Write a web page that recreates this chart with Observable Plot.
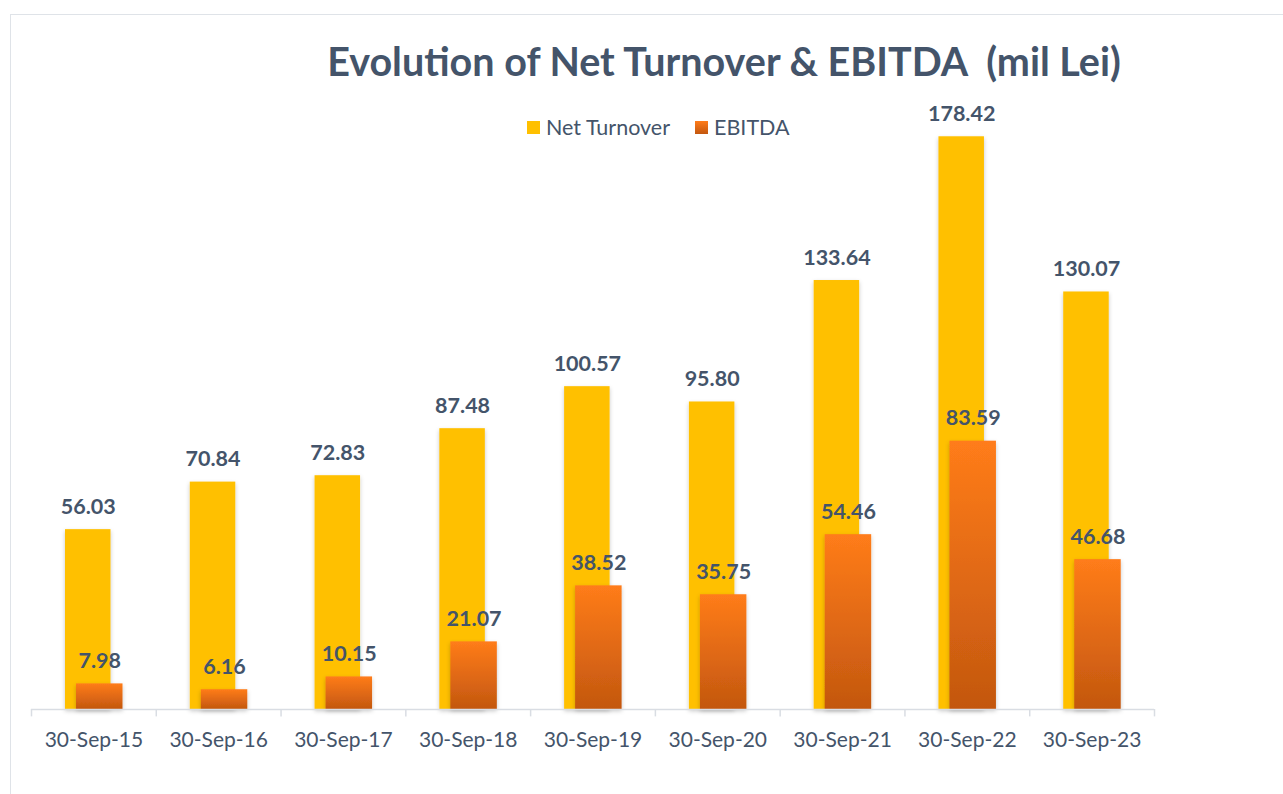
<!DOCTYPE html>
<html>
<head>
<meta charset="utf-8">
<script src="https://cdn.jsdelivr.net/npm/d3@7"></script>
<script src="https://cdn.jsdelivr.net/npm/@observablehq/plot@0.6"></script>
<style>
  html, body { margin: 0; padding: 0; background: #fff; }
  #wrap { position: relative; width: 1283px; height: 794px; overflow: hidden; font-family: Lato, "Open Sans", sans-serif; }
  #frame { position: absolute; left: 10px; top: 14px; width: 1400px; height: 900px; border: 1px solid #dfe3e8; box-sizing: border-box; }
  #title { position: absolute; left: 0; width: 1448px; top: 37px; text-align: center; font-size: 39.5px; font-weight: 700; color: #44546A; line-height: 48px; white-space: pre; }
  #legend { position: absolute; left: 527px; top: 114px; display: flex; align-items: center; font-size: 21.5px; color: #44546A; line-height: 26px; }
  #legend .sw { width: 13px; height: 13px; display: inline-block; margin-right: 6px; }
  #legend .item { display: flex; align-items: center; margin-right: 25px; }
  #chart { position: absolute; left: 0; top: 0; }
</style>
</head>
<body>
<div id="wrap">
  <div id="frame"></div>
  <div id="chart"></div>
  <div id="title"></div>
  <div id="legend"></div>
</div>
<script>
const categories = ["30-Sep-15","30-Sep-16","30-Sep-17","30-Sep-18","30-Sep-19","30-Sep-20","30-Sep-21","30-Sep-22","30-Sep-23"];
const netTurnover = [56.03, 70.84, 72.83, 87.48, 100.57, 95.80, 133.64, 178.42, 130.07];
const ebitda = [7.98, 6.16, 10.15, 21.07, 38.52, 35.75, 54.46, 83.59, 46.68];
const seriesNames = ["Net Turnover", "EBITDA"];
const titleText = "Evolution of Net Turnover & EBITDA  (mil Lei)";

const turnoverData = categories.map((c, i) => ({cat: c, value: netTurnover[i]}));
const ebitdaData = categories.map((c, i) => ({cat: c, value: ebitda[i]}));

const W = 1283, H = 794;
const mL = 31, mR = 129, mT = 67, mB = 85;
const bw = (W - mL - mR) / categories.length;
const labelColor = "#44546A";
const axisColor = "#d9dde3";

const chart = Plot.plot({
  width: W,
  height: H,
  marginLeft: mL,
  marginRight: mR,
  marginTop: mT,
  marginBottom: mB,
  style: {fontFamily: "Lato, 'Open Sans', sans-serif", background: "transparent", overflow: "visible"},
  x: {domain: categories, padding: 0, round: false, label: null},
  y: {domain: [0, 200], axis: null},
  marks: [
    Plot.barY(turnoverData, {x: "cat", y: "value", fill: "#FFC000", insetLeft: 34, insetRight: bw - 34 - 45.5}),
    Plot.barY(ebitdaData, {x: "cat", y: "value", fill: "url(#ebitdaGrad)", insetLeft: 45, insetRight: bw - 45 - 46.5}),
    Plot.ruleY([0], {stroke: axisColor, strokeWidth: 1.5}),
    Plot.ruleX(categories, {x: d => d, dx: -bw / 2, y1: 0, y2: -2.3, stroke: axisColor, strokeWidth: 1.5}),
    Plot.ruleX([categories[categories.length - 1]], {x: d => d, dx: bw / 2, y1: 0, y2: -2.3, stroke: axisColor, strokeWidth: 1.5}),
    Plot.axisX({tickSize: 0, tickPadding: 23, fontSize: 21, fill: labelColor, label: null}),
    Plot.text(turnoverData, {x: "cat", y: "value", text: d => d.value.toFixed(2), dx: 34 + 22.75 - bw / 2, dy: -16, lineAnchor: "bottom", fontSize: 21.5, fontWeight: 700, fill: labelColor}),
    Plot.text(ebitdaData, {x: "cat", y: "value", text: d => d.value.toFixed(2), dx: 45 + 23.25 - bw / 2, dy: -16, lineAnchor: "bottom", fontSize: 21.5, fontWeight: 700, fill: labelColor})
  ]
});

const svg = d3.select(chart);
svg.insert("defs", ":first-child").html(`
  <linearGradient id="ebitdaGrad" x1="0" y1="0" x2="0" y2="1">
    <stop offset="0" stop-color="#FF7C1A"/>
    <stop offset="1" stop-color="#C3570F"/>
  </linearGradient>
  <filter id="barShadow" x="-20%" y="-5%" width="140%" height="115%">
    <feDropShadow dx="0" dy="2" stdDeviation="2" flood-color="#000" flood-opacity="0.22"/>
  </filter>`);
svg.selectAll('g[aria-label="bar"]').attr("filter", "url(#barShadow)");

document.getElementById("chart").appendChild(chart);
document.getElementById("title").textContent = titleText;

const legend = document.getElementById("legend");
const swatches = ["#FFC000", "linear-gradient(#FF7C1A, #C3570F)"];
seriesNames.forEach((name, i) => {
  const item = document.createElement("span");
  item.className = "item";
  const sw = document.createElement("span");
  sw.className = "sw";
  sw.style.background = swatches[i];
  item.appendChild(sw);
  item.appendChild(document.createTextNode(name));
  legend.appendChild(item);
});
</script>
</body>
</html>
